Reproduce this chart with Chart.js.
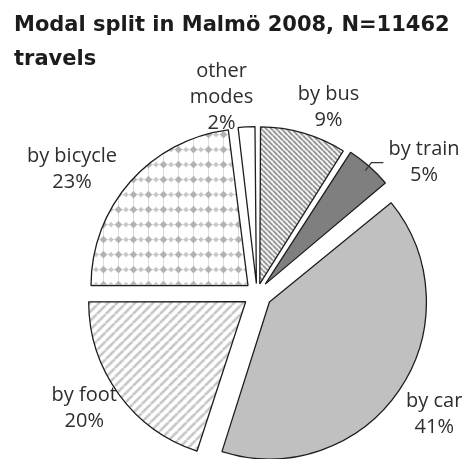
<!DOCTYPE html>
<html>
<head>
<meta charset="utf-8">
<script src="https://cdn.jsdelivr.net/npm/chart.js@4.4.1/dist/chart.umd.min.js"></script>
<style>
  html, body { margin: 0; padding: 0; background: #fff; }
  #wrap { width: 467px; height: 459px; position: relative; }
</style>
</head>
<body>
<div id="wrap"><canvas id="modalChart"></canvas></div>
<script>
const titleLines = ['Modal split in Malmö 2008, N=11462', 'travels'];
const modes = ['by bus', 'by train', 'by car', 'by foot', 'by bicycle', ['other', 'modes']];
const shares = [9, 5, 41, 20, 23, 2];

// how far each slice is pulled out of the pie (px)
const explode = [10, 12.5, 15, 14, 12, 10];
// label placement from the slice tip: turn from the mid angle (deg) and gap past the rim (px)
const labelTurn = [5, 11, -0.1, 2.6, -7.8, -7];
const labelGap = [37.5, 52, 49, 37, 54.4, 41];

const canvas = document.getElementById('modalChart');
const mainCtx = canvas.getContext('2d');

function makePattern(w, h, paint) {
  const tile = document.createElement('canvas');
  tile.width = w;
  tile.height = h;
  const g = tile.getContext('2d');
  g.fillStyle = '#fff';
  g.fillRect(0, 0, w, h);
  paint(g, w, h);
  return mainCtx.createPattern(tile, 'repeat');
}

const busFill = makePattern(5, 5, (g, w, h) => {
  g.strokeStyle = '#6e6e6e';
  g.lineWidth = 1.5;
  for (let k = -1; k <= 1; k++) {
    g.beginPath();
    g.moveTo(k * w, 0);
    g.lineTo(k * w + w, h);
    g.stroke();
  }
});

const footFill = makePattern(9, 9, (g, w, h) => {
  g.strokeStyle = '#c4c4c4';
  g.lineWidth = 2.5;
  for (let k = -1; k <= 1; k++) {
    g.beginPath();
    g.moveTo(k * w, h);
    g.lineTo(k * w + w, 0);
    g.stroke();
  }
});

const bicycleFill = makePattern(15, 15, (g, w, h) => {
  g.strokeStyle = '#dcdcdc';
  g.lineWidth = 1;
  g.beginPath();
  g.moveTo(7.5, 0); g.lineTo(7.5, h);
  g.moveTo(0, 7.5); g.lineTo(w, 7.5);
  g.stroke();
  const diamond = (x, y, r) => {
    g.beginPath();
    g.moveTo(x, y - r); g.lineTo(x + r, y); g.lineTo(x, y + r); g.lineTo(x - r, y);
    g.closePath();
    g.fill();
  };
  g.fillStyle = '#b2b2b2';
  diamond(7.5, 7.5, 3.8);
  g.fillStyle = '#c6c6c6';
  diamond(0, 7.5, 2.8);
  diamond(w, 7.5, 2.8);
});

// Chart.js grows the rim of pulled-out slices; undo that so all slices keep one radius
const flatOffsetPlugin = {
  id: 'flatOffset',
  afterDatasetUpdate(chart, args) {
    args.meta.data.forEach((arc) => {
      const circ = arc.endAngle - arc.startAngle;
      const push = (arc.options.offset || 0) / 4;
      arc.outerRadius -= push * (1 - Math.sin(Math.min(Math.PI, circ)));
    });
  }
};

const labelPlugin = {
  id: 'sliceLabels',
  afterDraw(chart) {
    const ctx = chart.ctx;
    const meta = chart.getDatasetMeta(0);
    ctx.save();

    ctx.fillStyle = '#1c1c1c';
    ctx.font = 'bold 21px "DejaVu Sans"';
    ctx.textAlign = 'left';
    ctx.textBaseline = 'alphabetic';
    titleLines.forEach((t, i) => ctx.fillText(t, 14, 31 + i * 34));

    ctx.fillStyle = '#2e2e2e';
    ctx.font = '20px "Open Sans"';
    ctx.textAlign = 'center';
    meta.data.forEach((arc, i) => {
      const mid = (arc.startAngle + arc.endAngle) / 2;
      const push = arc.options.offset / 4;
      const tipX = arc.x + Math.cos(mid) * push;
      const tipY = arc.y + Math.sin(mid) * push;
      const a = mid + labelTurn[i] * Math.PI / 180;
      const d = arc.outerRadius + labelGap[i];
      const cx = tipX + Math.cos(a) * d;
      const cy = tipY + Math.sin(a) * d;
      const lines = [].concat(modes[i], shares[i] + '%');
      const lh = 26;
      lines.forEach((t, j) => {
        ctx.fillText(t, cx, cy + 6 + (j - (lines.length - 1) / 2) * lh);
      });

      // short leader line for the train label
      if (i === 1) {
        const r = arc.outerRadius + 3;
        const x0 = tipX + Math.cos(mid) * r;
        const y0 = tipY + Math.sin(mid) * r;
        ctx.strokeStyle = '#333';
        ctx.lineWidth = 1.2;
        ctx.beginPath();
        ctx.moveTo(x0, y0);
        ctx.lineTo(x0 + 6, y0 - 8);
        ctx.lineTo(x0 + 18, y0 - 8);
        ctx.stroke();
      }
    });
    ctx.restore();
  }
};

new Chart(canvas, {
  type: 'pie',
  data: {
    labels: modes,
    datasets: [{
      data: shares,
      backgroundColor: [busFill, '#7f7f7f', '#c0c0c0', footFill, bicycleFill, '#fff'],
      borderColor: '#1e1e1e',
      borderWidth: 1.3,
      offset: explode.map(v => v * 4),
    }]
  },
  options: {
    responsive: true,
    maintainAspectRatio: false,
    animation: false,
    events: [],
    radius: 157,
    layout: {
      padding: { left: 47, top: 128, right: 0, bottom: 0 }
    },
    plugins: {
      legend: { display: false },
      tooltip: { enabled: false },
      title: { display: false }
    }
  },
  plugins: [flatOffsetPlugin, labelPlugin]
});
</script>
</body>
</html>
